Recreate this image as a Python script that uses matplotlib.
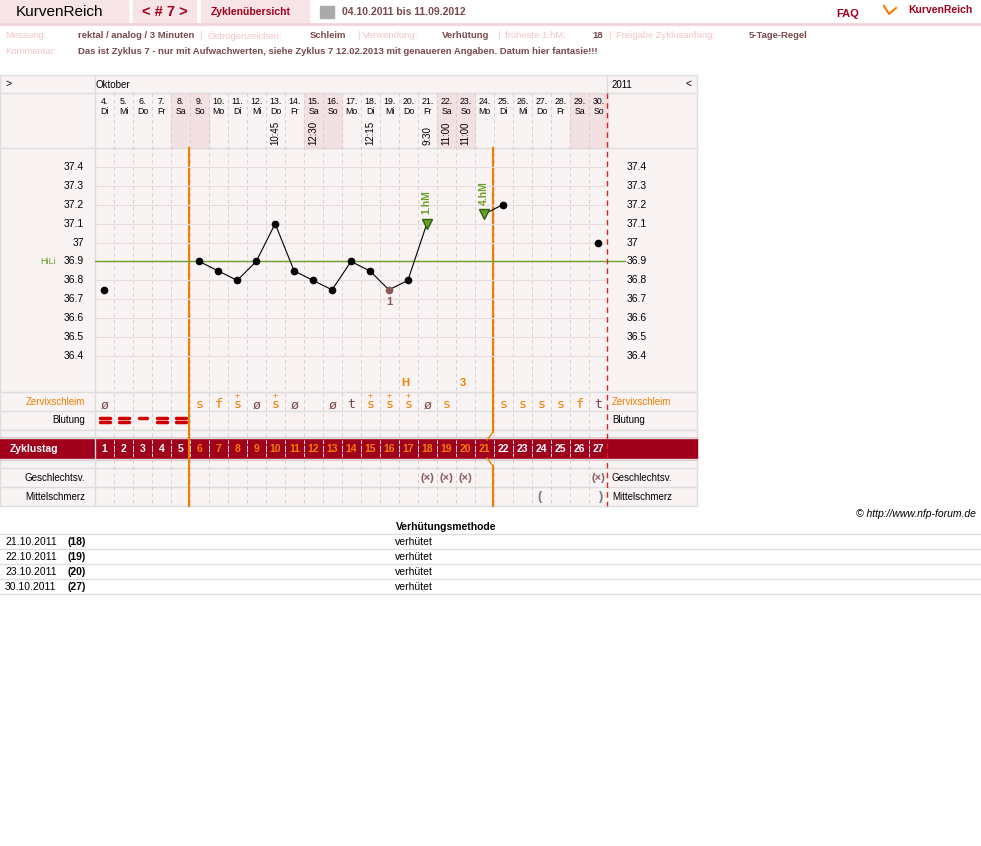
import matplotlib
matplotlib.use('Agg')
import matplotlib.pyplot as plt
from matplotlib.patches import Rectangle

plt.rcParams['font.family'] = ['Liberation Sans', 'DejaVu Sans']

# Data
dates = list(range(4, 31))
weekdays = ['Di', 'Mi', 'Do', 'Fr', 'Sa', 'So', 'Mo'] * 4
weekdays = weekdays[:27]
times = {13: '10:45', 15: '12:30', 18: '12:15', 21: '9:30', 22: '11:00', 23: '11:00'}
temp_days = [4, 9, 10, 11, 12, 13, 14, 15, 16, 17, 18, 19, 20, 21, 24, 25, 30]
temps = [36.75, 36.9, 36.85, 36.8, 36.9, 37.1, 36.85, 36.8, 36.75, 36.9, 36.85, 36.75, 36.8, 37.1, 37.15, 37.2, 37.0]
segments = [(9, 21), (24, 25)]
y_ticks = [37.4, 37.3, 37.2, 37.1, 37.0, 36.9, 36.8, 36.7, 36.6, 36.5, 36.4]
hili = 36.9
mucus = {4: 'ø', 9: 's', 10: 'f', 11: 'ṡ', 12: 'ø', 13: 'ṡ', 14: 'ø', 16: 'ø', 17: 't', 18: 'ṡ', 19: 'ṡ',
         20: 'ṡ', 21: 'ø', 22: 's', 25: 's', 26: 's', 27: 's', 28: 's', 29: 'f', 30: 't'}
bleeding = {4: 2, 5: 2, 6: 1, 7: 2, 8: 2}
intercourse = [21, 22, 23, 30]
cycle_days = list(range(1, 28))
protect_dates = ['21.10.2011', '22.10.2011', '23.10.2011', '30.10.2011']
protect_days = ['(18)', '(19)', '(20)', '(27)']

DARK = '#7a4a4a'
PINK = '#f2c4c8'
ORANGE = '#f07f00'
RED = '#a0001c'

fig = plt.figure(figsize=(9.81, 8.46), dpi=100)
ax = fig.add_axes([0, 0, 1, 1])
ax.set_xlim(0, 981)
ax.set_ylim(846, 0)
ax.axis('off')

def colx(d):
    return 95 + (d - 4) * 19 + 9.5

def ypix(v):
    return 167 + (37.4 - v) * 189

# header
ax.add_patch(Rectangle((0, 0), 128, 23, color='#f7e4e6'))
ax.add_patch(Rectangle((133, 0), 63, 23, color='#f7e4e6'))
ax.add_patch(Rectangle((201, 0), 108, 23, color='#f7e4e6'))
ax.plot([0, 981], [24, 24], color='#f2d4d8', lw=2)
ax.text(16, 12, 'KurvenReich', fontsize=11, va='center', color='black')
ax.text(165, 12, '< # 7 >', fontsize=10.5, va='center', ha='center', color=RED, weight='bold')
ax.text(211, 12, 'Zyklenübersicht', fontsize=7.5, va='center', color=RED, weight='bold')
ax.add_patch(Rectangle((320, 6), 14, 12, color='#aaaaaa'))
ax.text(342, 12, '04.10.2011 bis 11.09.2012', fontsize=7.5, va='center', color=DARK, weight='bold')
ax.text(836, 14, 'FAQ', fontsize=8, va='center', color=RED, weight='bold')
ax.text(908, 10, 'KurvenReich', fontsize=7.5, va='center', color=RED, weight='bold')
ax.plot([884, 889, 896], [6, 14, 8], color=ORANGE, lw=1.5)

info = [(5, 'Messung:', 0), (78, 'rektal / analog / 3 Minuten', 1), (199, '|', 0),
        (207, 'Östrogenzeichen:', 0), (310, 'Schleim', 1), (357, '|', 0), (363, 'Verwendung:', 0),
        (442, 'Verhütung', 1), (497, '|', 0), (505, 'früheste 1.hM:', 0), (592, '18', 1),
        (608, '|', 0), (616, 'Freigabe Zyklusanfang:', 0), (749, '5-Tage-Regel', 1)]
for x, t, b in info:
    ax.text(x, 36, t, fontsize=6.8, va='center', color=DARK if b else PINK, weight='bold' if b else 'normal')
ax.text(5, 51, 'Kommentar:', fontsize=6.8, va='center', color=PINK)
ax.text(78, 51, 'Das ist Zyklus 7 - nur mit Aufwachwerten, siehe Zyklus 7 12.02.2013 mit genaueren Angaben. Datum hier fantasie!!!',
        fontsize=6.8, va='center', color=DARK, weight='bold')

# table background
ax.add_patch(Rectangle((0, 75), 697, 431, facecolor='#f9f3f3', edgecolor='#dddddd', lw=1))
for i, d in enumerate(dates):
    if weekdays[i] in ('Sa', 'So'):
        ax.add_patch(Rectangle((95 + i * 19, 93), 19, 55, color='#f2e0e2'))
for y in [93, 148, 392, 411, 430, 438, 459, 468, 487]:
    ax.plot([0, 697], [y, y], color='#dddddd', lw=1)
ax.plot([95, 95], [75, 506], color='#dddddd', lw=1)
ax.plot([607, 607], [75, 93], color='#dddddd', lw=1)
for i in range(1, 27):
    x = 95 + i * 19
    ax.plot([x, x], [93, 506], color='#cccccc', lw=0.6, ls=(0, (4, 4)))
ax.text(5, 84, '>', fontsize=7.5, va='center')
ax.text(96, 85, 'Oktober', fontsize=7, va='center')
ax.text(612, 85, '2011', fontsize=7, va='center')
ax.text(686, 84, '<', fontsize=7.5, va='center')
for i, d in enumerate(dates):
    x = colx(d)
    ax.text(x, 101, f'{d}.', fontsize=6.3, ha='center', va='center')
    ax.text(x, 111, weekdays[i], fontsize=6.3, ha='center', va='center')
    if d in times:
        ax.text(x, 145, times[d], fontsize=7, ha='center', va='bottom', rotation=90)

# temperature axes
tax = fig.add_axes([95 / 981, 1 - 392 / 846, 512 / 981, 244 / 846])
tax.set_xlim(3.5, 30.5)
tax.set_ylim(36.2095, 37.5005)
tax.axis('off')
for v in y_ticks:
    tax.axhline(v, color='#e6dede', lw=0.8)
    lab = f'{v:g}'
    ax.text(84, ypix(v), lab, fontsize=7.5, ha='right', va='center')
    ax.text(627, ypix(v), lab, fontsize=7.5, ha='left', va='center')
tax.axhline(hili, color='#6aa028', lw=1)
ax.plot([607, 625], [ypix(hili), ypix(hili)], color='#6aa028', lw=1)
ax.text(40, ypix(hili), 'HiLi', fontsize=6.5, va='center', color='#6aa028')
for a, b in segments:
    xs = [d for d in temp_days if a <= d <= b]
    ys = [temps[temp_days.index(d)] for d in xs]
    tax.plot(xs, ys, color='black', lw=0.8)
for d, t in zip(temp_days, temps):
    if d in (21, 24):
        tax.plot(d, t, marker='v', color='#6aa028', ms=7, mec='#2f6010')
    elif d == 19:
        tax.plot(d, t, 'o', color='#8a5a5a', ms=4.5)
        tax.text(d, t - 0.04, '1', fontsize=8, ha='center', va='top', color='#8a5a5a', weight='bold')
    else:
        tax.plot(d, t, 'o', color='black', ms=4.5)
tax.text(21, 37.15, '1.hM', fontsize=7.5, color='#6aa028', rotation=90, ha='center', va='bottom', weight='bold')
tax.text(24, 37.2, '4.hM', fontsize=7.5, color='#6aa028', rotation=90, ha='center', va='bottom', weight='bold')
ax.text(colx(20) - 3, 383, 'H', fontsize=8, color=ORANGE, ha='center', va='center', weight='bold')
ax.text(colx(23) - 3, 383, '3', fontsize=8, color=ORANGE, ha='center', va='center', weight='bold')

# rows
ax.text(85, 402, 'Zervixschleim', fontsize=7, ha='right', va='center', color=ORANGE)
ax.text(612, 402, 'Zervixschleim', fontsize=7, va='center', color=ORANGE)
ax.text(85, 420, 'Blutung', fontsize=7, ha='right', va='center')
ax.text(612, 420, 'Blutung', fontsize=7, va='center')
ax.text(85, 478, 'Geschlechtsv.', fontsize=7, ha='right', va='center')
ax.text(612, 478, 'Geschlechtsv.', fontsize=7, va='center')
ax.text(85, 497, 'Mittelschmerz', fontsize=7, ha='right', va='center')
ax.text(612, 497, 'Mittelschmerz', fontsize=7, va='center')
for d, m in mucus.items():
    c = DARK if m in ('ø', 't') else ORANGE
    base = 's' if m == 'ṡ' else m
    ax.text(colx(d), 405, base, fontsize=9.5, ha='center', va='center', color=c, family='DejaVu Sans Mono')
    if m == 'ṡ':
        ax.text(colx(d), 396, '+', fontsize=6.5, ha='center', va='center', color=c)
for d, n in bleeding.items():
    if n == 2:
        ax.plot([colx(d) - 5, colx(d) + 5], [418, 418], color='#d00000', lw=2.5, solid_capstyle='round')
        ax.plot([colx(d) - 5, colx(d) + 5], [422, 422], color='#d00000', lw=2.5, solid_capstyle='round')
    else:
        ax.plot([colx(d) - 4, colx(d) + 4], [418, 418], color='#d00000', lw=2.5, solid_capstyle='round')
for d in intercourse:
    ax.text(colx(d), 478, '(×)', fontsize=8, ha='center', va='center', color='#8a5a5a', weight='bold')
ax.text(colx(27) - 2, 497, '(', fontsize=9, ha='center', va='center', color='#777777', weight='bold')
ax.text(colx(30) + 3, 497, ')', fontsize=9, ha='center', va='center', color='#777777', weight='bold')

ax.add_patch(Rectangle((0, 438), 697, 21, color=RED))
ax.text(10, 449, 'Zyklustag', fontsize=7.5, va='center', color='white', weight='bold')
for i, c in enumerate(cycle_days):
    x = 95 + i * 19
    if i > 0:
        ax.plot([x, x], [441, 456], color='white', lw=0.6, ls=(0, (3, 2)))
    col = ORANGE if 6 <= c <= 21 else 'white'
    ax.text(x + 9.5, 449, str(c), fontsize=7.5, ha='center', va='center', color=col, weight='bold')

# vertical markers
ax.plot([189, 189], [148, 506], color=ORANGE, lw=1.5)
ax.plot([493, 493], [148, 432], color=ORANGE, lw=1.5)
ax.plot([493, 493], [466, 506], color=ORANGE, lw=1.5)
ax.plot([493, 487], [432, 440], color=ORANGE, lw=1)
ax.plot([487, 493], [458, 466], color=ORANGE, lw=1)
ax.plot([607, 607], [93, 506], color='#e02020', lw=1, ls=(0, (4, 3)))

# footer
ax.text(976, 514, '© http://www.nfp-forum.de', fontsize=7.5, ha='right', va='center', style='italic')
ax.text(446, 527, 'Verhütungsmethode', fontsize=7.5, ha='center', va='center', weight='bold')
for i, (dt, dd) in enumerate(zip(protect_dates, protect_days)):
    y = 542 + i * 15
    ax.plot([0, 981], [y - 8, y - 8], color='#dddddd', lw=1)
    ax.text(5, y, dt, fontsize=7.5, va='center')
    ax.text(68, y, dd, fontsize=7.5, va='center', weight='bold')
    ax.text(395, y, 'verhütet', fontsize=7.5, va='center')
ax.plot([0, 981], [594, 594], color='#dddddd', lw=1)

fig.savefig('out.png', dpi=100, facecolor='white')
